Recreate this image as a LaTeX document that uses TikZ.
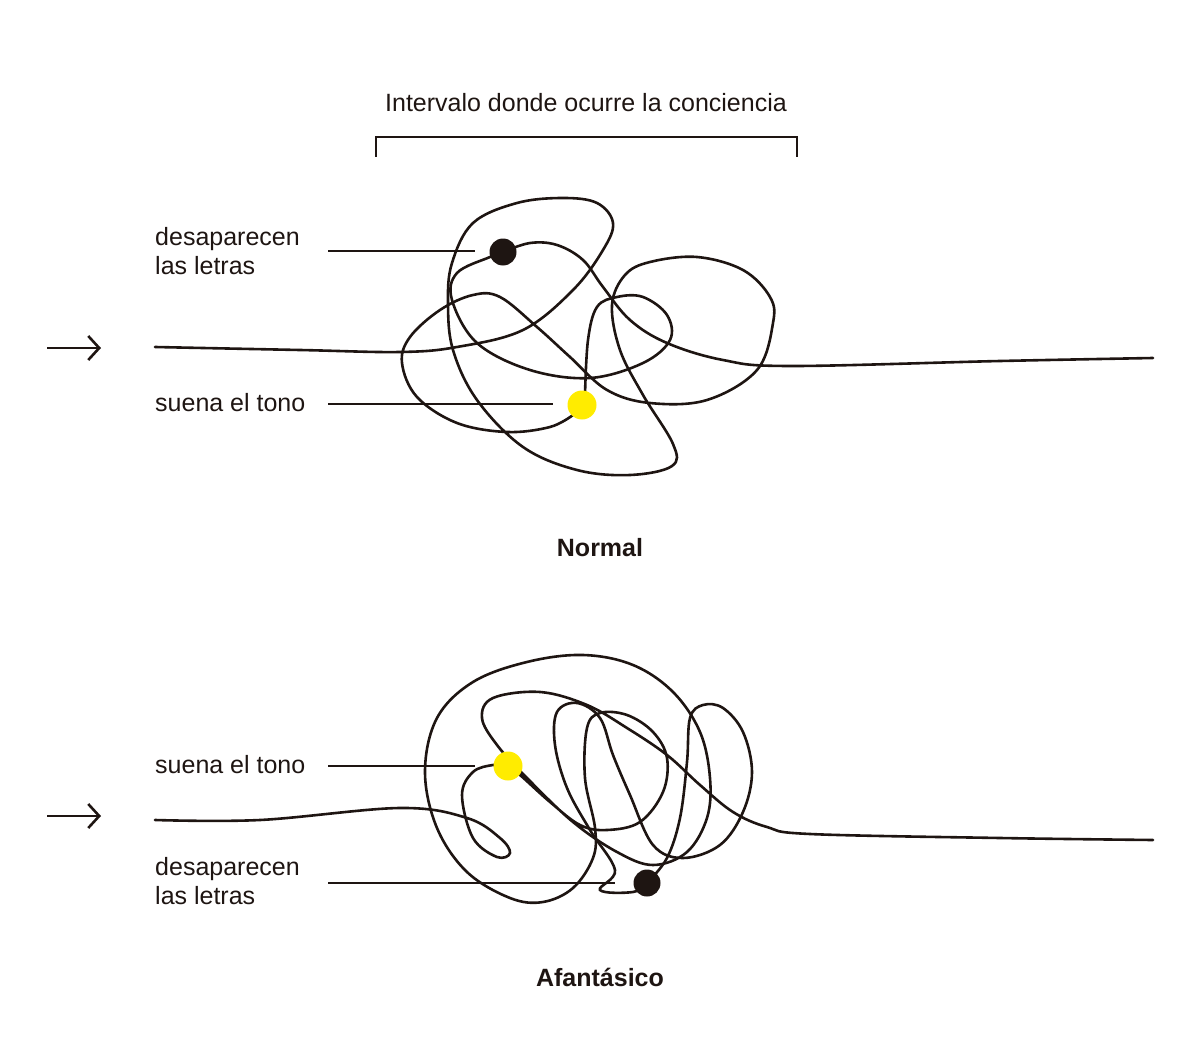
\documentclass[tikz,border=0pt]{standalone}
\usepackage{fontspec}
\setmainfont{Liberation Sans}
\usetikzlibrary{arrows.meta}
\definecolor{ink}{HTML}{1E1512}
\definecolor{tone}{HTML}{FFEC00}
\begin{document}
\begin{tikzpicture}[x=1pt,y=-1pt,
  lbl/.style={anchor=west,align=left,font=\fontsize{25}{29}\selectfont,text=ink,inner sep=0pt},
  ttl/.style={font=\fontsize{25}{28}\selectfont\bfseries,text=ink},
  scrib/.style={draw=ink,line width=2.6pt,smooth,tension=0.6,line cap=round},
  lead/.style={draw=ink,line width=1.4pt},
  arr/.style={ink,line width=2.6pt,-{Straight Barb[length=11pt,width=24pt,line width=2.6pt]}},
  dotk/.style={circle,fill=ink,minimum size=27pt,inner sep=0pt},
  doty/.style={circle,fill=tone,minimum size=29pt,inner sep=0pt}]
\useasboundingbox (0,0) rectangle (1200,1046);
\node[font=\fontsize{25}{28}\selectfont,text=ink] (ttlint) at (586,103) {Intervalo donde ocurre la conciencia};
\coordinate (b1) at (376,157); \coordinate (b2) at (797,157);
\draw[ink,line width=1.4pt] (b1) -- ++(0,-20) -| (b2);
% Normal
\coordinate (a1s) at (47,348); \coordinate (a1e) at (101,348);
\draw[arr] (a1s) -- (a1e);
\draw[scrib] plot coordinates {(155,347) (300,350) (400,352) (457,347) (523,330) (573,290) (603,250) (613,223) (597,203) (563,198) (517,203) (473,223) (452,263) (448,303) (453,350) (477,400) (523,447) (577,470) (630,475) (672,466) (673,444) (643,395) (620,350) (612,305) (625,275) (650,262) (697,257) (743,270) (770,297) (773,323) (757,370) (707,400) (650,403) (607,390) (570,357) (537,327) (500,297) (473,295) (440,310) (410,337) (402,363) (417,397) (457,423) (507,432) (550,427) (573,415)};
\draw[scrib] plot coordinates {(585,395) (588,340) (597,307) (617,297) (643,297) (667,315) (670,340) (643,363) (590,378) (530,370) (477,343) (452,300) (457,273) (490,257) (503,252)};
\draw[scrib] plot coordinates {(503,252) (530,243) (557,245) (583,260) (603,287) (630,320) (667,343) (723,360) (790,366) (1000,361) (1153,358)};
\node[dotk] (kn) at (503,252) {};
\node[doty] (yn) at (582,405) {};
\node[lbl] (l1) at (155,251) {desaparecen\\las letras};
\node[lbl] (l2) at (155,403) {suena el tono};
\coordinate (l1e) at (475,251); \coordinate (l2e) at (553,404);
\draw[lead] (328,251) -- (l1e);
\draw[lead] (328,404) -- (l2e);
\node[ttl] (tn) at (600,548) {Normal};
% Afantasico
\coordinate (a2s) at (47,816); \coordinate (a2e) at (101,816);
\draw[arr] (a2s) -- (a2e);
\draw[scrib] plot coordinates {(155,820) (260,820) (400,808) (467,818) (500,838) (510,853) (497,857) (473,838) (462,795) (473,772) (493,765) (507,766)};
\draw[scrib] plot coordinates {(507,766) (520,775) (550,802) (580,825) (607,830) (640,822) (663,792) (667,758) (653,732) (627,715) (600,713) (587,728) (585,778) (595,828) (593,858) (573,888) (543,902) (510,898) (467,872) (437,828) (425,772) (437,718) (473,682) (527,662) (583,655) (633,665) (673,692) (700,732) (710,778) (707,818) (687,852) (653,865) (617,852) (573,822) (527,778) (497,745) (482,718) (493,698) (540,692) (587,705) (627,728) (667,755) (700,785) (733,812) (767,827) (810,834) (1000,838) (1153,840)};
\draw[scrib] plot coordinates {(647,883) (667,858) (680,818) (687,762) (690,718) (703,705) (723,708) (743,732) (752,772) (743,812) (720,845) (683,858) (653,845) (630,795) (613,755) (600,718) (577,703) (557,712) (555,745) (567,788) (590,830) (615,870) (600,890) (633,892) (647,883)};
\node[dotk] (ka) at (647,883) {};
\node[doty] (ya) at (508,766) {};
\node[lbl] (l3) at (155,765) {suena el tono};
\node[lbl] (l4) at (155,881) {desaparecen\\las letras};
\coordinate (l3e) at (475,766); \coordinate (l4e) at (615,883);
\draw[lead] (328,766) -- (l3e);
\draw[lead] (328,883) -- (l4e);
\node[ttl] (ta) at (600,977) {Afantásico};
\end{tikzpicture}
\end{document}
